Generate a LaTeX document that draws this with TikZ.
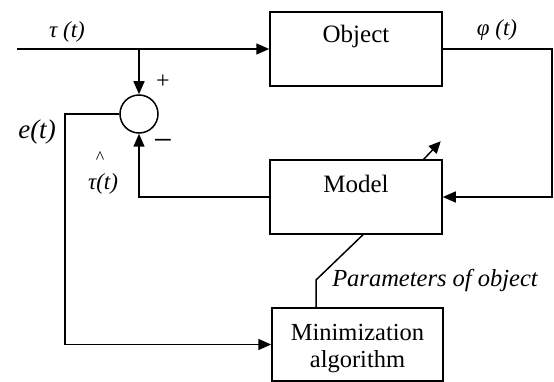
\documentclass[tikz,border=0pt]{standalone}
\usepackage{fontspec}
\setmainfont{Liberation Serif}
\usetikzlibrary{arrows.meta,calc}
\begin{document}
\begin{tikzpicture}[x=1pt,y=-1pt,
  line width=1.5pt,
  box/.style={draw, rectangle, inner sep=0pt, font=\fontsize{25}{28}\selectfont},
  conn/.style={-{Triangle[length=13pt,width=11pt]}},
  lbl/.style={inner sep=0pt, font=\fontsize{23}{26}\selectfont\itshape}]
\useasboundingbox (0,0) rectangle (554,382);
\node[box, minimum width=172pt, minimum height=74pt, text height=18pt, text depth=30pt] (obj) at (356,49) {Object};
\node[box, minimum width=172pt, minimum height=74pt, text height=18pt, text depth=26pt] (model) at (356,197) {Model};
\node[box, minimum width=171pt, minimum height=73pt] (min) at (357.5,344.5) {};
\node[inner sep=0pt, align=center, font=\fontsize{24.5}{27}\selectfont] (mintxt) at ([yshift=-4pt]min.center) {Minimization\\algorithm};
\node[draw, circle, inner sep=0pt, minimum size=38pt] (sum) at (139,114) {};
\coordinate (in) at (17,49);
\coordinate (br) at (139,49);
\coordinate (rc) at (552,49);
\coordinate (lc) at (65,114);
\coordinate (pm) at (316,280);
\draw[conn] (in) -- (obj.west);
\draw[conn] (br) -- (sum.north);
\draw[conn] (obj.east) -- (rc) |- (model.east);
\draw[conn] (model.west) -| (sum.south);
\draw[conn] (sum.west) -- (lc) |- (min.west);
\draw ([xshift=7pt]model.south) -- (pm) -- ([xshift=-41.5pt]min.north);
\draw[-{Triangle[length=12pt,width=11pt]}] ([xshift=-19pt]model.north east) -- ++(17,-18);
\node[lbl] (tau) at (67,32) {τ (t)};
\node[lbl] (phi) at (497,30) {φ (t)};
\node[lbl, font=\fontsize{27}{30}\selectfont\itshape] (et) at (37,132) {e(t)};
\node[inner sep=0pt, font=\fontsize{18}{20}\selectfont] (hat) at (100,158) {\^{}};
\node[lbl] (that) at (103,184) {τ(t)};
\node[inner sep=0pt, font=\fontsize{24}{26}\selectfont] (plus) at (163,82) {+};
\node[inner sep=0pt, font=\fontsize{34}{36}\selectfont] (minus) at (163,145) {−};
\node[lbl, font=\fontsize{24.5}{28}\selectfont\itshape] (par) at (435,280) {Parameters of object};
\end{tikzpicture}
\end{document}
